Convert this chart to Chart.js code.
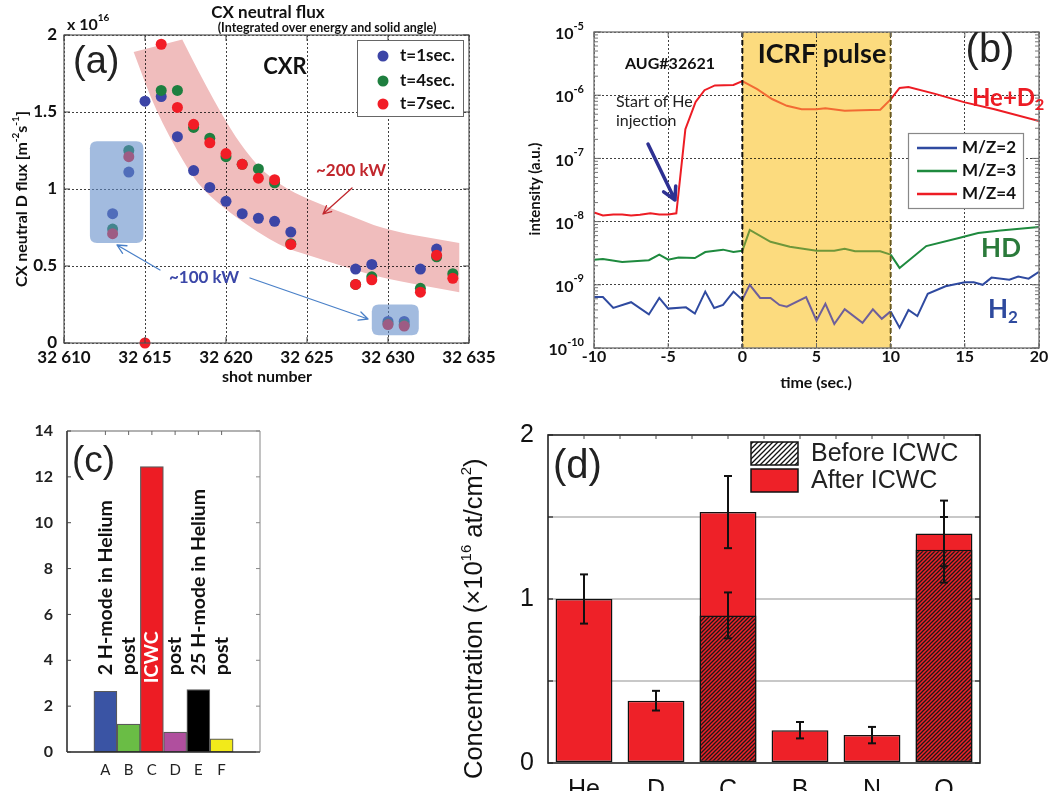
<!DOCTYPE html>
<html><head><meta charset="utf-8"><title>CX flux / RGA / wall concentration</title>
<script src="https://cdn.jsdelivr.net/npm/chart.js@4.4.1/dist/chart.umd.min.js"></script>
<style>
html,body{margin:0;padding:0;background:#fff;}
body{width:1053px;height:791px;position:relative;overflow:hidden;}
canvas{position:absolute;}
</style></head><body>
<canvas id="chartA" style="left:0px;top:0px;width:520px;height:395px" width="520" height="395"></canvas>
<canvas id="chartB" style="left:520px;top:0px;width:533px;height:395px" width="533" height="395"></canvas>
<canvas id="chartC" style="left:0px;top:400px;width:270px;height:391px" width="270" height="391"></canvas>
<canvas id="chartD" style="left:430px;top:400px;width:623px;height:391px" width="623" height="391"></canvas>
<script>
// ================= DATA =================
// (a) CX neutral flux vs shot number
const shots  = [32613,32614,32615,32616,32617,32618,32619,32620,32621,32622,32623,32624,32628,32629,32630,32631,32632,32633,32634];
const fluxT1 = [0.84,1.11,1.57,1.60,1.34,1.12,1.01,0.92,0.84,0.81,0.79,0.72,0.48,0.51,0.14,0.14,0.48,0.61,null];
const fluxT4 = [0.74,1.25,null,1.64,1.64,1.40,1.33,1.21,1.16,1.13,1.04,0.645,0.38,0.43,0.125,0.12,0.355,0.56,0.45];
const fluxT7 = [0.71,1.21,0.00,1.94,1.53,1.42,1.30,1.23,1.16,1.07,1.06,0.64,0.38,0.41,0.12,0.11,0.33,0.57,0.42];
const shotTicks = [32610,32615,32620,32625,32630,32635];
const fluxTicks = [0,0.5,1,1.5,2];
const bandTopShot = [32614.3,32617.3,32619.5,32621.7,32623.4,32625.1,32627.6,32630.0,32634.4];
const bandTopFlux = [1.89,1.97,1.51,1.17,1.02,0.93,0.83,0.73,0.65];
const bandBottomShot = [32614.3,32615.65,32617.4,32618.5,32620.5,32623.4,32625.1,32627.6,32630.0,32634.4];
const bandBottomFlux = [1.89,1.51,1.17,1.00,0.82,0.625,0.57,0.485,0.41,0.33];
const boxShotFrom = [32611.6,32629.0];
const boxShotTo   = [32614.9,32631.9];
const boxFluxFrom = [0.65,0.05];
const boxFluxTo   = [1.31,0.25];

// (b) mass spectrometry, AUG#32621
const tBlue = [-10,-9.4,-8.7,-7.5,-6.3,-5.6,-5.0,-3.8,-3.2,-2.5,-1.9,-1.3,-0.6,0,0.5,1.2,1.9,2.5,3.0,4.3,5.0,5.6,6.2,6.9,8.1,8.8,9.4,10,10.6,11.2,11.8,12.5,13.7,15,15.6,16.2,16.8,18,18.6,19.3,20];
const iBlue = [6.4e-10,6.4e-10,4.3e-10,5.3e-10,3.4e-10,6.2e-10,4.2e-10,4.4e-10,3.5e-10,7.8e-10,4.3e-10,4.8e-10,7.8e-10,5.8e-10,1.0e-9,6.2e-10,6.2e-10,4.8e-10,4.5e-10,6.4e-10,2.7e-10,5.0e-10,2.4e-10,4.1e-10,2.5e-10,4.1e-10,2.9e-10,3.8e-10,2.1e-10,4.0e-10,3.2e-10,7.2e-10,9.5e-10,1.1e-9,1.1e-9,1.0e-9,1.3e-9,1.2e-9,1.35e-9,1.25e-9,1.6e-9];
const tGreen = [-10,-9.4,-8.1,-6.3,-5.6,-5.0,-4.3,-3.2,-2.5,-1.3,-0.6,0,0.5,1.9,3.2,5,6.2,6.9,7.6,9.3,10,10.6,12.4,14.6,15.9,17.4,20];
const iGreen = [2.5e-9,2.55e-9,2.3e-9,2.45e-9,3.0e-9,2.5e-9,2.7e-9,2.65e-9,3.3e-9,3.6e-9,3.3e-9,3.45e-9,7.4e-9,4.8e-9,4.0e-9,3.45e-9,3.45e-9,3.7e-9,3.4e-9,3.4e-9,3.0e-9,1.85e-9,4.1e-9,5.5e-9,6.6e-9,7.2e-9,8.2e-9];
const tRed = [-10,-9.4,-8.7,-8.1,-7.5,-6.9,-6.2,-5.6,-5.0,-4.45,-3.84,-3.15,-2.55,-1.85,-0.6,0,1,2,3,4,5,5.6,6.9,8,9.3,10,10.6,11.2,13,15,17,20];
const iRed = [1.4e-8,1.25e-8,1.3e-8,1.3e-8,1.25e-8,1.28e-8,1.35e-8,1.3e-8,1.3e-8,1.35e-8,2.9e-7,7.8e-7,1.2e-6,1.43e-6,1.45e-6,1.67e-6,1.25e-6,8.7e-7,6.8e-7,6.0e-7,6.0e-7,6.2e-7,5.7e-7,5.8e-7,5.9e-7,8.6e-7,1.3e-6,1.35e-6,1.05e-6,7.7e-7,6.0e-7,3.9e-7];
const timeTicks = [-10,-5,0,5,10,15,20];
const decadeExps = [-10,-9,-8,-7,-6,-5];
const pulseWindow = [0,10];

// (c) runs
const runLabels = ['A','B','C','D','E','F'];
const runValues = [2.65,1.22,12.45,0.87,2.72,0.57];
const runNotes  = ['2 H-mode in Helium','post','ICWC','post','25 H-mode in Helium','post'];
const runColors = ['#3A54A4','#6ABD45','#ED1C24','#B04F9E','#000000','#F2EA1A'];
const runTicks  = [0,2,4,6,8,10,12,14];

// (d) surface concentration
const elements   = ['He','D','C','B','N','O'];
const concBefore = [null,null,0.90,null,null,1.30];
const concAfter  = [1.00,0.38,1.53,0.20,0.17,1.40];
const errBefore  = [null,null,0.14,null,null,0.20];
const errAfter   = [0.15,0.06,0.22,0.05,0.05,0.20];
const concTicks  = [0,0.5,1,1.5,2];

// ================= HELPERS =================
const LATO = "Lato, 'Open Sans', sans-serif";
const ARIAL = "'Liberation Sans', Arial, sans-serif";
const fnt = (w, s, fam) => w + ' ' + s + 'px ' + fam;
function txt(ctx, s, x, y, font, align, color) {
  ctx.save(); ctx.font = font; ctx.fillStyle = color; ctx.textAlign = align; ctx.textBaseline = 'middle';
  ctx.fillText(s, x, y); ctx.restore();
}
function rich(ctx, x, y, segs, align, color) {
  ctx.save(); ctx.textBaseline = 'middle'; ctx.textAlign = 'left';
  let w = 0; for (const s of segs) { ctx.font = s.f; w += ctx.measureText(s.t).width; }
  let cx = align === 'center' ? x - w / 2 : align === 'right' ? x - w : x;
  for (const s of segs) { ctx.font = s.f; ctx.fillStyle = s.c || color; ctx.fillText(s.t, cx, y + (s.dy || 0)); cx += ctx.measureText(s.t).width; }
  ctx.restore();
}
function richRot(ctx, x, y, segs, align, color) { ctx.save(); ctx.translate(x, y); ctx.rotate(-Math.PI / 2); rich(ctx, 0, 0, segs, align, color); ctx.restore(); }
function seg(ctx, x1, y1, x2, y2, color, lw, dash) {
  ctx.save(); ctx.strokeStyle = color; ctx.lineWidth = lw; ctx.setLineDash(dash || []);
  ctx.beginPath(); ctx.moveTo(x1, y1); ctx.lineTo(x2, y2); ctx.stroke(); ctx.restore();
}
function arrow(ctx, x1, y1, x2, y2, color, lw, hl, ha) {
  ctx.save(); ctx.strokeStyle = color; ctx.lineWidth = lw; ctx.lineCap = 'round'; ctx.lineJoin = 'round';
  const a = Math.atan2(y2 - y1, x2 - x1);
  ctx.beginPath(); ctx.moveTo(x1, y1); ctx.lineTo(x2, y2);
  ctx.moveTo(x2 - hl * Math.cos(a - ha), y2 - hl * Math.sin(a - ha)); ctx.lineTo(x2, y2);
  ctx.lineTo(x2 - hl * Math.cos(a + ha), y2 - hl * Math.sin(a + ha));
  ctx.stroke(); ctx.restore();
}
function roundRect(ctx, x, y, w, h, r) {
  ctx.beginPath(); ctx.moveTo(x + r, y); ctx.lineTo(x + w - r, y); ctx.quadraticCurveTo(x + w, y, x + w, y + r);
  ctx.lineTo(x + w, y + h - r); ctx.quadraticCurveTo(x + w, y + h, x + w - r, y + h); ctx.lineTo(x + r, y + h);
  ctx.quadraticCurveTo(x, y + h, x, y + h - r); ctx.lineTo(x, y + r); ctx.quadraticCurveTo(x, y, x + r, y); ctx.closePath();
}
function smoothThrough(ctx, pts) {
  for (let i = 1; i < pts.length - 1; i++) {
    const mx = (pts[i].x + pts[i + 1].x) / 2, my = (pts[i].y + pts[i + 1].y) / 2;
    ctx.quadraticCurveTo(pts[i].x, pts[i].y, mx, my);
  }
  const l = pts[pts.length - 1]; ctx.lineTo(l.x, l.y);
}
function baseOptions(W, area) {
  return { responsive: false, animation: false, events: [],
    layout: { padding: { left: 0, top: area.top, right: W - area.right, bottom: 0 } },
    plugins: { legend: { display: false }, tooltip: { enabled: false } } };
}
const dotted = { color: 'rgba(0,0,0,0.75)', lineWidth: 1, drawTicks: false };
const noBorderDash = { display: false, dash: [2, 2] };

// ================= (a) =================
(function () {
  const W = 520, H = 395, area = { left: 64, top: 35, right: 469, bottom: 343 };
  const cT1 = '#3C45A6', cT4 = '#1E7F3F', cT7 = '#F21D26';
  const pts = vals => shots.map((s, i) => ({ x: s, y: vals[i] })).filter(p => p.y !== null);
  const opts = baseOptions(W, area);
  opts.scales = {
    x: { type: 'linear', min: 32610, max: 32635,
      afterBuildTicks: s => { s.ticks = shotTicks.map(v => ({ value: v })); },
      afterFit: s => { s.height = H - area.bottom; },
      grid: dotted, border: noBorderDash,
      ticks: { padding: 6, color: '#111', autoSkip: false, maxRotation: 0,
        font: { family: LATO, weight: 'bold', size: 17, lineHeight: 1 },
        callback: v => { const s = String(v); return s.slice(0, 2) + ' ' + s.slice(2); } } },
    y: { type: 'linear', min: 0, max: 2,
      afterBuildTicks: s => { s.ticks = fluxTicks.map(v => ({ value: v })); },
      afterFit: s => { s.width = area.left; },
      grid: dotted, border: noBorderDash,
      ticks: { padding: 7, color: '#111', font: { family: LATO, weight: 'bold', size: 17, lineHeight: 1 }, callback: v => String(v) } }
  };
  new Chart(document.getElementById('chartA'), {
    type: 'scatter',
    data: { datasets: [
      { label: 't=1sec.', data: pts(fluxT1), backgroundColor: cT1, borderWidth: 0, pointRadius: 5.5, order: 3, clip: false },
      { label: 't=4sec.', data: pts(fluxT4), backgroundColor: cT4, borderWidth: 0, pointRadius: 5.5, order: 2, clip: false },
      { label: 't=7sec.', data: pts(fluxT7), backgroundColor: cT7, borderWidth: 0, pointRadius: 5.5, order: 1, clip: false }
    ] },
    options: opts,
    plugins: [{
      id: 'panelA',
      beforeDraw(chart) {
        const { ctx, scales: { x, y } } = chart;
        const top = bandTopShot.map((s, i) => ({ x: x.getPixelForValue(s), y: y.getPixelForValue(bandTopFlux[i]) }));
        const bot = bandBottomShot.map((s, i) => ({ x: x.getPixelForValue(s), y: y.getPixelForValue(bandBottomFlux[i]) })).reverse();
        ctx.save(); ctx.beginPath();
        ctx.moveTo(top[0].x, top[0].y); ctx.lineTo(top[1].x, top[1].y);
        smoothThrough(ctx, top.slice(1));
        ctx.lineTo(bot[0].x, bot[0].y);
        smoothThrough(ctx, bot);
        ctx.closePath(); ctx.fillStyle = '#F0BDBD'; ctx.fill(); ctx.restore();
      },
      afterDatasetsDraw(chart) {
        const { ctx, chartArea: ca, scales: { x, y } } = chart;
        ctx.save(); ctx.fillStyle = 'rgba(95,138,200,0.58)';
        boxShotFrom.forEach((s, i) => {
          const x0 = x.getPixelForValue(s), x1 = x.getPixelForValue(boxShotTo[i]);
          const y0 = y.getPixelForValue(boxFluxTo[i]), y1 = y.getPixelForValue(boxFluxFrom[i]);
          roundRect(ctx, x0, y0, x1 - x0, y1 - y0, 7); ctx.fill();
        });
        ctx.restore();
        ctx.save(); ctx.strokeStyle = '#555'; ctx.lineWidth = 1.2; ctx.strokeRect(ca.left, ca.top, ca.right - ca.left, ca.bottom - ca.top); ctx.restore();
        shotTicks.forEach(v => { const px = x.getPixelForValue(v); seg(ctx, px, ca.top, px, ca.top + 6, '#444', 1); seg(ctx, px, ca.bottom, px, ca.bottom - 6, '#444', 1); });
        fluxTicks.forEach(v => { const py = y.getPixelForValue(v); seg(ctx, ca.left, py, ca.left + 6, py, '#444', 1); seg(ctx, ca.right, py, ca.right - 6, py, '#444', 1); });
        txt(ctx, '(a)', 73, 63, fnt('normal', 38, ARIAL), 'left', '#222');
        txt(ctx, 'CXR', 285, 67, fnt('bold', 22, LATO), 'center', '#111');
        rich(ctx, 67, 25, [{ t: 'x 10', f: fnt('bold', 16, LATO) }, { t: '16', f: fnt('bold', 10, LATO), dy: -7 }], 'left', '#111');
        txt(ctx, 'CX neutral flux', 268, 13, fnt('bold', 17, LATO), 'center', '#111');
        txt(ctx, '(Integrated over energy and solid angle)', 327, 28, fnt('bold', 12.5, LATO), 'center', '#111');
        txt(ctx, '~200 kW', 351, 171, fnt('bold', 17, LATO), 'center', '#C1272D');
        arrow(ctx, 352, 188, 323, 214, '#C1272D', 1.3, 9, 0.45);
        txt(ctx, '~100 kW', 204, 278, fnt('bold', 17, LATO), 'center', '#3B47A8');
        arrow(ctx, 160, 270, 117, 245, '#4A80C8', 1.3, 10, 0.45);
        arrow(ctx, 250, 278, 368, 319, '#4A80C8', 1.3, 10, 0.45);
        ctx.save(); ctx.fillStyle = '#fff'; ctx.fillRect(357, 40, 106, 76); ctx.strokeStyle = '#666'; ctx.lineWidth = 1; ctx.strokeRect(357.5, 40.5, 106, 76); ctx.restore();
        [[cT1, 't=1sec.', 56], [cT4, 't=4sec.', 81], [cT7, 't=7sec.', 104]].forEach(([c, l, yy]) => {
          ctx.save(); ctx.fillStyle = c; ctx.beginPath(); ctx.arc(383, yy, 5.5, 0, Math.PI * 2); ctx.fill(); ctx.restore();
          txt(ctx, l, 400, yy, fnt('bold', 17, LATO), 'left', '#111');
        });
        const f1 = fnt('bold', 16, LATO), f2 = fnt('bold', 10, LATO);
        richRot(ctx, 22, 199, [{ t: 'CX neutral D flux [m', f: f1 }, { t: '-2', f: f2, dy: -6 }, { t: 's', f: f1 }, { t: '-1', f: f2, dy: -6 }, { t: ']', f: f1 }], 'center', '#111');
        txt(ctx, 'shot number', 267, 377, fnt('bold', 16, LATO), 'center', '#111');
      }
    }]
  });
})();

// ================= (b) =================
(function () {
  const W = 533, H = 395, OX = 520, area = { left: 74, top: 32, right: 519, bottom: 348 };
  const inPulse = c => c.p0.parsed.x >= pulseWindow[0] - 1e-9 && c.p1.parsed.x <= pulseWindow[1] + 1e-9;
  const mk = (ts, vs, col, colIn, label) => ({ label, data: ts.map((t, i) => ({ x: t, y: vs[i] })), borderColor: col, borderWidth: 2,
    pointRadius: 0, tension: 0, fill: false, segment: { borderColor: c => inPulse(c) ? colIn : undefined } });
  const opts = baseOptions(W, area);
  opts.scales = {
    x: { type: 'linear', min: -10, max: 20,
      afterBuildTicks: s => { s.ticks = timeTicks.map(v => ({ value: v })); },
      afterFit: s => { s.height = H - area.bottom; },
      grid: dotted, border: noBorderDash,
      ticks: { padding: 1, color: '#111', autoSkip: false, maxRotation: 0, font: { family: LATO, weight: 'bold', size: 16, lineHeight: 1 } } },
    y: { type: 'logarithmic', min: 1e-10, max: 1e-5,
      afterBuildTicks: s => { s.ticks = decadeExps.map(e => ({ value: Number('1e' + e) })); },
      afterFit: s => { s.width = area.left; },
      grid: dotted, border: noBorderDash, ticks: { display: false } }
  };
  new Chart(document.getElementById('chartB'), {
    type: 'line',
    data: { datasets: [
      mk(tRed, iRed, '#ED1C24', '#F26A33', 'M/Z=4'),
      mk(tGreen, iGreen, '#1E8A3E', '#6F973A', 'M/Z=3'),
      mk(tBlue, iBlue, '#2F4AA0', '#6E5F9A', 'M/Z=2')
    ] },
    options: opts,
    plugins: [{
      id: 'panelB',
      beforeDraw(chart) {
        const { ctx, chartArea: ca, scales: { x } } = chart;
        const xl = x.getPixelForValue(pulseWindow[0]), xr = x.getPixelForValue(pulseWindow[1]);
        ctx.save(); ctx.fillStyle = '#FCDB7E'; ctx.fillRect(xl, ca.top, xr - xl, ca.bottom - ca.top); ctx.restore();
      },
      afterDatasetsDraw(chart) {
        const { ctx, chartArea: ca, scales: { x, y } } = chart;
        const xl = x.getPixelForValue(pulseWindow[0]), xr = x.getPixelForValue(pulseWindow[1]);
        seg(ctx, xl, ca.top, xl, ca.bottom, '#111', 2, [5, 3]);
        seg(ctx, xr, ca.top, xr, ca.bottom, '#6B5B1E', 2, [5, 3]);
        ctx.save(); ctx.strokeStyle = '#777'; ctx.lineWidth = 1.4; ctx.strokeRect(ca.left, ca.top, ca.right - ca.left, ca.bottom - ca.top); ctx.restore();
        decadeExps.forEach(e => {
          const py = y.getPixelForValue(Number('1e' + e));
          seg(ctx, ca.left, py, ca.left + 7, py, '#666', 1); seg(ctx, ca.right, py, ca.right - 7, py, '#666', 1);
          if (e < -5) for (let k = 2; k <= 9; k++) {
            const pm = y.getPixelForValue(k * Number('1e' + e));
            seg(ctx, ca.left, pm, ca.left + 4, pm, '#777', 1); seg(ctx, ca.right, pm, ca.right - 4, pm, '#777', 1);
          }
          rich(ctx, ca.left - 10, py, [{ t: '10', f: fnt('bold', 16, LATO), dy: 2 }, { t: String(e), f: fnt('bold', 11, LATO), dy: -6 }], 'right', '#111');
        });
        timeTicks.forEach(v => { const px = x.getPixelForValue(v); seg(ctx, px, ca.top, px, ca.top + 5, '#666', 1); seg(ctx, px, ca.bottom, px, ca.bottom - 5, '#666', 1); });
        ctx.save(); ctx.translate(-OX, 0);
        txt(ctx, 'AUG#32621', 670, 64, fnt('bold', 16, LATO), 'center', '#111');
        txt(ctx, 'ICRF pulse', 822, 54, fnt('bold', 27, LATO), 'center', '#111');
        txt(ctx, '(b)', 990, 51, fnt('normal', 40, ARIAL), 'center', '#222');
        rich(ctx, 972, 98, [{ t: 'He+D', f: fnt('bold', 24, LATO) }, { t: '2', f: fnt('bold', 16, LATO), dy: 7 }], 'left', '#ED1C24');
        txt(ctx, 'Start of He', 616, 102, fnt('normal', 16, LATO), 'left', '#222');
        txt(ctx, 'injection', 616, 121, fnt('normal', 16, LATO), 'left', '#222');
        arrow(ctx, 648, 144, 675, 200, '#2E3192', 3.5, 14, 0.5);
        txt(ctx, 'HD', 1001, 249, fnt('bold', 26, LATO), 'center', '#2A7A3A');
        rich(ctx, 988, 310, [{ t: 'H', f: fnt('bold', 26, LATO) }, { t: '2', f: fnt('bold', 17, LATO), dy: 8 }], 'left', '#2E4A9E');
        richRot(ctx, 535, 189, [{ t: 'intensity (a.u.)', f: fnt('bold', 15, LATO) }], 'center', '#111');
        txt(ctx, 'time (sec.)', 816, 383, fnt('bold', 16, LATO), 'center', '#111');
        ctx.fillStyle = '#fff'; ctx.fillRect(908, 133, 115, 75);
        ctx.strokeStyle = '#888'; ctx.lineWidth = 1.2; ctx.strokeRect(908.5, 133.5, 115, 75);
        [['#2F4AA0', 'M/Z=2', 148], ['#1E8A3E', 'M/Z=3', 171], ['#ED1C24', 'M/Z=4', 194]].forEach(([c, l, yy]) => {
          seg(ctx, 917, yy, 957, yy, c, 2.5);
          txt(ctx, l, 962, yy, fnt('bold', 17, LATO), 'left', '#111');
        });
        ctx.restore();
      }
    }]
  });
})();

// ================= (c) =================
(function () {
  const W = 270, H = 391, OY = 400, area = { left: 67, top: 31, right: 260, bottom: 352 };
  const opts = baseOptions(W, area);
  opts.scales = {
    x: { type: 'linear', min: 0.04, max: 6.96,
      afterBuildTicks: s => { s.ticks = runLabels.map((l, i) => ({ value: i + 1 })); },
      afterFit: s => { s.height = H - area.bottom; },
      grid: { display: false }, border: { display: false },
      ticks: { padding: 3, color: '#222', autoSkip: false, maxRotation: 0, font: { family: LATO, size: 15, lineHeight: 1 },
        callback: v => runLabels[Math.round(v) - 1] } },
    y: { type: 'linear', min: 0, max: 14,
      afterBuildTicks: s => { s.ticks = runTicks.map(v => ({ value: v })); },
      afterFit: s => { s.width = area.left; },
      grid: { display: false }, border: { display: false },
      ticks: { padding: 6, color: '#222', font: { family: LATO, weight: 'bold', size: 16, lineHeight: 1 } } }
  };
  new Chart(document.getElementById('chartC'), {
    type: 'bar',
    data: { datasets: [{ data: runValues.map((v, i) => ({ x: i + 1, y: v })), backgroundColor: runColors,
      borderColor: '#5a5a5a', borderWidth: 1.2, borderSkipped: false, barThickness: 23 }] },
    options: opts,
    plugins: [{
      id: 'panelC',
      afterDatasetsDraw(chart) {
        const { ctx, chartArea: ca, scales: { x, y } } = chart;
        seg(ctx, ca.left, ca.top, ca.right, ca.top, '#666', 1.2);
        seg(ctx, ca.right, ca.top, ca.right, ca.bottom, '#999', 1.2);
        seg(ctx, ca.left, ca.top, ca.left, ca.bottom, '#222', 1.5);
        seg(ctx, ca.left, ca.bottom, ca.right, ca.bottom, '#222', 1.5);
        runTicks.forEach(v => { const py = y.getPixelForValue(v); seg(ctx, ca.left, py, ca.left + 4, py, '#444', 1); seg(ctx, ca.right, py, ca.right - 4, py, '#888', 1); });
        runLabels.forEach((l, i) => { const px = x.getPixelForValue(i + 1); seg(ctx, px, ca.top, px, ca.top + 4, '#666', 1); });
        runNotes.forEach((n, i) => {
          const px = x.getPixelForValue(i + 1);
          const white = runColors[i] === '#ED1C24';
          const py = y.getPixelForValue(white ? 3.0 : 3.35);
          richRot(ctx, px, py, [{ t: n, f: fnt('bold', 19.5, LATO) }], 'left', white ? '#ffffff' : '#111');
        });
        txt(ctx, '(c)', 72, 462 - OY, fnt('normal', 37, ARIAL), 'left', '#222');
      }
    }]
  });
})();

// ================= (d) =================
(function () {
  const W = 623, H = 391, OX = 430, OY = 400, area = { left: 118, top: 35, right: 550, bottom: 363 };
  const cvs = document.getElementById('chartD');
  function hatch(bg, fg, p, lw) {
    const c = document.createElement('canvas'); c.width = p; c.height = p;
    const g = c.getContext('2d'); g.fillStyle = bg; g.fillRect(0, 0, p, p);
    g.strokeStyle = fg; g.lineWidth = lw; g.beginPath();
    g.moveTo(0, p); g.lineTo(p, 0); g.moveTo(-1, 1); g.lineTo(1, -1); g.moveTo(p - 1, p + 1); g.lineTo(p + 1, p - 1); g.stroke();
    return cvs.getContext('2d').createPattern(c, 'repeat');
  }
  const redHatch = hatch('#EE2128', '#1a1a1a', 4, 1.3);
  const whiteHatch = hatch('#ffffff', '#111111', 5, 1.3);
  const opts = baseOptions(W, area);
  opts.scales = {
    x: { type: 'category', offset: true, afterFit: s => { s.height = H - area.bottom; },
      grid: { display: false }, border: { display: false },
      ticks: { padding: 7, color: '#111', font: { family: ARIAL, size: 25, lineHeight: 1 }, autoSkip: false, maxRotation: 0 } },
    y: { type: 'linear', min: 0, max: 2,
      afterBuildTicks: s => { s.ticks = concTicks.map(v => ({ value: v })); },
      afterFit: s => { s.width = area.left; },
      grid: { drawTicks: false, lineWidth: 2, color: c => (c.tick && c.tick.value > 0 && c.tick.value < 2) ? '#C8C8C8' : 'rgba(0,0,0,0)' },
      border: { display: false },
      ticks: { padding: 14, color: '#111', font: { family: ARIAL, size: 25, lineHeight: 1 }, callback: v => Number.isInteger(v) ? String(v) : '' } }
  };
  new Chart(cvs, {
    type: 'bar',
    data: { labels: elements, datasets: [
      { label: 'Before ICWC', data: concBefore, backgroundColor: redHatch, borderColor: '#111', borderWidth: 1.5, borderSkipped: false, grouped: false, barPercentage: 0.79, categoryPercentage: 1 },
      { label: 'After ICWC', data: concAfter, backgroundColor: '#EE2128', borderColor: '#111', borderWidth: 1.5, borderSkipped: false, grouped: false, barPercentage: 0.79, categoryPercentage: 1 }
    ] },
    options: opts,
    plugins: [{
      id: 'panelD',
      afterDatasetsDraw(chart) {
        const { ctx, chartArea: ca, scales: { x, y } } = chart;
        const errs = (vals, es) => vals.forEach((v, i) => {
          if (v == null || es[i] == null) return;
          const cx = x.getPixelForValue(i), t = y.getPixelForValue(v + es[i]), b = y.getPixelForValue(v - es[i]);
          seg(ctx, cx, t, cx, b, '#111', 2); seg(ctx, cx - 4, t, cx + 4, t, '#111', 2); seg(ctx, cx - 4, b, cx + 4, b, '#111', 2);
        });
        errs(concAfter, errAfter); errs(concBefore, errBefore);
        ctx.save(); ctx.strokeStyle = '#222'; ctx.lineWidth = 1.6; ctx.strokeRect(ca.left, ca.top, ca.right - ca.left, ca.bottom - ca.top); ctx.restore();
        concTicks.forEach(v => { const py = y.getPixelForValue(v); seg(ctx, ca.left, py, ca.left + 5, py, '#222', 1.2); seg(ctx, ca.right, py, ca.right - 5, py, '#222', 1.2); });
        for (let k = 1; k < 12; k++) { const px = ca.left + k * (ca.right - ca.left) / 12; seg(ctx, px, ca.top, px, ca.top + 4, '#444', 1); }
        ctx.save(); ctx.translate(-OX, -OY);
        txt(ctx, '(d)', 553, 467, fnt('normal', 40, ARIAL), 'left', '#222');
        ctx.fillStyle = whiteHatch; ctx.fillRect(751, 442, 47, 23);
        ctx.strokeStyle = '#111'; ctx.lineWidth = 1.5; ctx.strokeRect(751, 442, 47, 23);
        ctx.fillStyle = '#EE2128'; ctx.fillRect(751, 469, 47, 23); ctx.strokeRect(751, 469, 47, 23);
        txt(ctx, 'Before ICWC', 811, 454, fnt('normal', 25, ARIAL), 'left', '#222');
        txt(ctx, 'After ICWC', 811, 481, fnt('normal', 25, ARIAL), 'left', '#222');
        const fa = fnt('normal', 25.5, ARIAL), fs = fnt('normal', 15, ARIAL);
        richRot(ctx, 475, 779, [{ t: 'Concentration (×10', f: fa }, { t: '16', f: fs, dy: -8 }, { t: ' at/cm', f: fa }, { t: '2', f: fs, dy: -8 }, { t: ')', f: fa }], 'left', '#111');
        ctx.restore();
      }
    }]
  });
})();
</script>
</body></html>
